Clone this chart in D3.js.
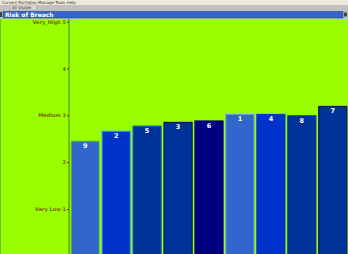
<!DOCTYPE html>
<html>
<head>
<meta charset="utf-8">
<script src="https://cdn.jsdelivr.net/npm/d3@7"></script>
<style>
body{margin:0;padding:0;background:#99ff00;overflow:hidden;}
text{font-family:"DejaVu Sans",sans-serif;}
</style>
</head>
<body>
<script>
// bar ids as shown on the bars, left to right
var barLabels = ["9", "2", "5", "3", "6", "1", "4", "8", "7"];
var barValues = [2.45, 2.66, 2.77, 2.85, 2.88, 3.02, 3.02, 2.99, 3.19];
var barColors = ["#3366cc", "#0033cc", "#003399", "#003399", "#000080", "#3366cc", "#0033cc", "#003399", "#003399"];
var barStrokes = ["#66cc33", "#3399ff", "#0066cc", "#000066", "#000080", "#6699ff", "#0033cc", "#0033aa", "#000066"];
var tickValues = [1, 2, 3, 4, 5];
var tickNames = {1: "Very Low 1", 2: "2", 3: "Medium 3", 4: "4", 5: "Very_High 5"};
var menuItems = "Current Portfolios  Manage  Tools  Help";

window.onload = function(){
	var W = 348, H = 254;
	var svg = d3.select("body").append("svg")
		.attr("width", W)
		.attr("height", H);

	// window chrome
	svg.append("rect").attr("x", 0).attr("y", 0).attr("width", W).attr("height", 5).attr("fill", "#ece9d8");
	svg.append("text").attr("x", 2).attr("y", 4).attr("font-size", 4).attr("fill", "#333")
		.text(menuItems);
	svg.append("rect").attr("x", 0).attr("y", 5).attr("width", W).attr("height", 6).attr("fill", "#c0c0c0");
	svg.append("rect").attr("x", 10).attr("y", 5).attr("width", 27).attr("height", 5)
		.attr("fill", "#d8d8d8").attr("stroke", "#999").attr("stroke-width", 0.5);
	svg.append("text").attr("x", 12).attr("y", 9).attr("font-size", 4).attr("fill", "#333")
		.text("All Visible");
	svg.append("rect").attr("x", 0).attr("y", 11).attr("width", W).attr("height", 8).attr("fill", "#c0c0c0");
	svg.append("rect").attr("x", 3).attr("y", 11.5).attr("width", 340).attr("height", 6.5)
		.attr("fill", "#3366cc").attr("stroke", "#1a3a80").attr("stroke-width", 0.5);
	svg.append("rect").attr("x", 0).attr("y", 12).attr("width", 2).attr("height", 5).attr("fill", "#444");
	svg.append("rect").attr("x", 344).attr("y", 12.5).attr("width", 3).attr("height", 4).attr("fill", "#444");
	svg.append("text").attr("x", 5).attr("y", 17).attr("font-size", 6).attr("font-weight", "bold")
		.attr("fill", "#fff").text("Risk of Breach");

	// plot background
	svg.append("rect").attr("x", 0).attr("y", 19).attr("width", W).attr("height", H - 19).attr("fill", "#99ff00");
	svg.append("rect").attr("x", 0).attr("y", 19).attr("width", 1).attr("height", H - 19).attr("fill", "#66cc00");

	var x = d3.scaleBand()
		.domain(barLabels)
		.range([70.5, 347.5])
		.paddingInner(0.09)
		.paddingOuter(0.02);
	var y = d3.scaleLinear()
		.domain([0, 5])
		.range([256, 21.5]);

	svg.selectAll("rect.bar")
		.data(barLabels)
		.enter()
		.append("rect")
		.attr("class", "bar")
		.attr("x", function(d){return x(d);})
		.attr("y", function(d, i){return y(barValues[i]);})
		.attr("width", x.bandwidth())
		.attr("height", function(d, i){return y(0) - y(barValues[i]);})
		.attr("fill", function(d, i){return barColors[i];})
		.attr("stroke", function(d, i){return barStrokes[i];})
		.attr("stroke-width", 1);

	svg.selectAll("text.barlabel")
		.data(barLabels)
		.enter()
		.append("text")
		.attr("class", "barlabel")
		.attr("x", function(d){return x(d) + x.bandwidth() / 2;})
		.attr("y", function(d, i){return y(barValues[i]) + 7;})
		.attr("text-anchor", "middle")
		.attr("font-size", 6.5)
		.attr("font-weight", "bold")
		.attr("fill", "#ffffff")
		.text(function(d){return d;});

	var axis = svg.append("g")
		.attr("transform", "translate(69,0)")
		.call(d3.axisLeft(y)
			.tickValues(tickValues)
			.tickSize(2)
			.tickPadding(1)
			.tickFormat(function(d){return tickNames[d];}));
	axis.select(".domain").remove();
	axis.append("line")
		.attr("x1", 0).attr("x2", 0)
		.attr("y1", 19).attr("y2", H)
		.attr("stroke", "#4d8000").attr("stroke-width", 1);
	axis.selectAll(".tick line").attr("stroke", "#333300");
	axis.selectAll(".tick text")
		.attr("font-size", 5)
		.attr("font-weight", "bold")
		.attr("font-family", "DejaVu Sans, sans-serif")
		.attr("fill", "#7a6600");
};
</script>
</body>
</html>
